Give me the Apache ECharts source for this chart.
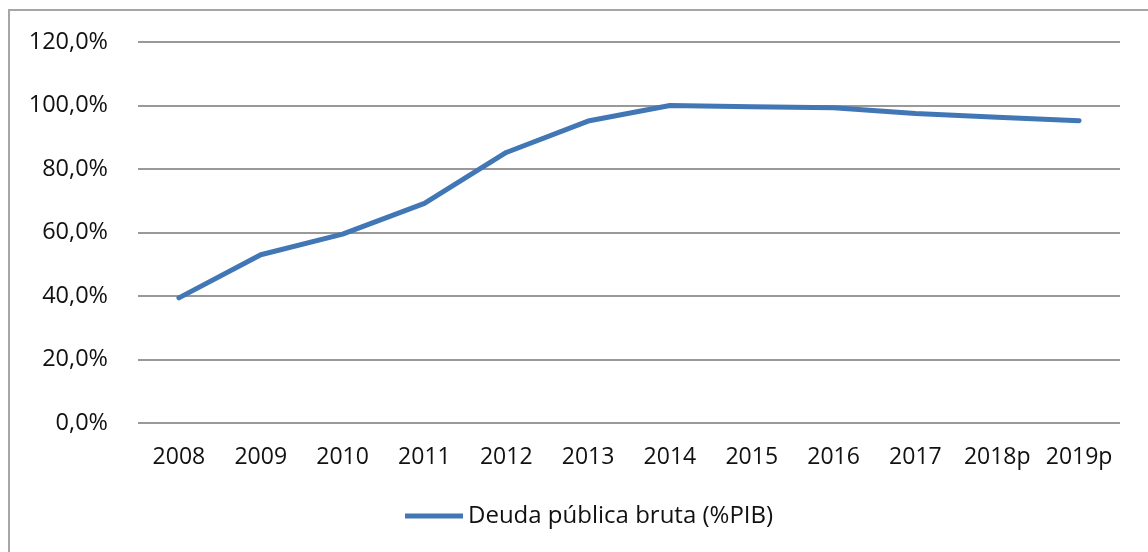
<!DOCTYPE html>
<html>
<head>
<meta charset="utf-8">
<script src="https://cdn.jsdelivr.net/npm/echarts@6/dist/echarts.min.js"></script>
<style>
  html, body { margin: 0; padding: 0; background: #fff; }
  #chart { width: 1148px; height: 552px; }
</style>
</head>
<body>
<div id="chart"></div>
<script>
// datos
const years = ["2008", "2009", "2010", "2011", "2012", "2013", "2014", "2015", "2016", "2017", "2018p", "2019p"];
const deuda = [39.4, 53.0, 59.5, 69.2, 85.2, 95.1, 100.0, 99.6, 99.3, 97.5, 96.3, 95.2];
const seriesName = "Deuda pública bruta (%PIB)";

const font = "'Open Sans', 'Liberation Sans', sans-serif";
const lineColor = "#4277b5";
const txt = "#111111";

let chart = echarts.init(document.getElementById("chart"));
chart.setOption({
  animation: false,
  textStyle: { fontFamily: font },
  graphic: [{
    type: "rect",
    shape: { x: 9, y: 10, width: 1200, height: 600 },
    style: { fill: "none", stroke: "#a6a6a6", lineWidth: 2 }
  }],
  grid: { left: 138, right: 28, top: 42, bottom: 129, containLabel: false },
  legend: {
    bottom: 19,
    left: 400,
    itemWidth: 58,
    itemHeight: 5,
    icon: "rect",
    textStyle: { fontSize: 24, color: txt, fontFamily: font },
    data: [seriesName]
  },
  xAxis: {
    type: "category",
    data: years,
    boundaryGap: true,
    axisLine: { show: false },
    axisTick: { show: false },
    axisLabel: { fontSize: 23, color: txt, margin: 23, interval: 0, hideOverlap: false }
  },
  yAxis: {
    type: "value",
    min: 0,
    max: 120,
    interval: 20,
    axisLine: { show: false },
    axisTick: { show: false },
    axisLabel: {
      fontSize: 23.5,
      color: txt,
      margin: 30,
      formatter: v => v.toFixed(1).replace(".", ",") + "%"
    },
    splitLine: { lineStyle: { color: "#999999", width: 2 } }
  },
  series: [{
    name: seriesName,
    type: "line",
    data: deuda,
    symbol: "none",
    itemStyle: { color: lineColor },
    lineStyle: { color: lineColor, width: 5, cap: "round", join: "round" }
  }]
});
</script>
</body>
</html>
